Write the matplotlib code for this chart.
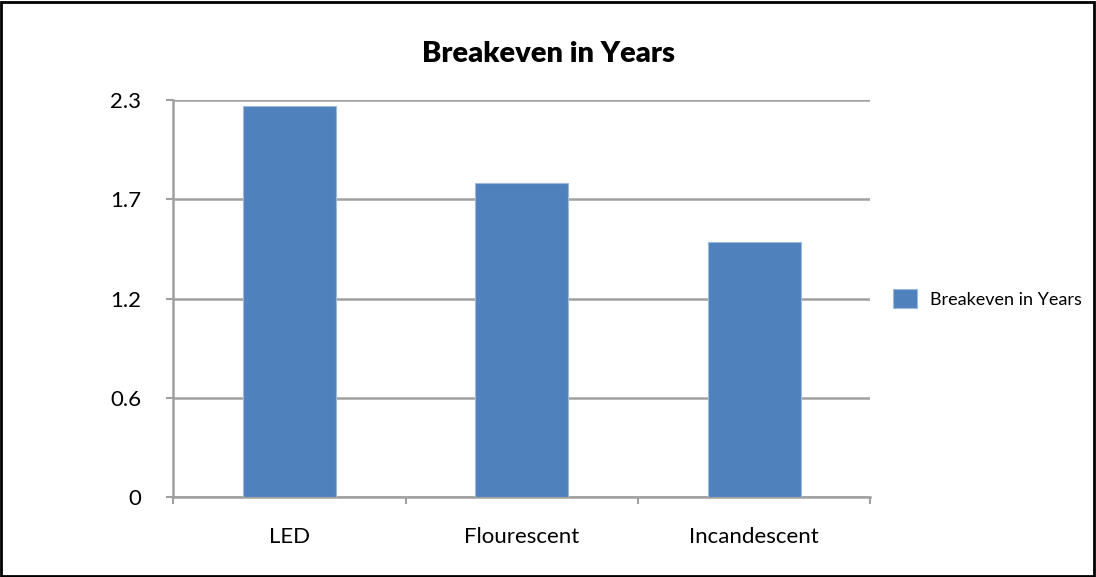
import numpy as np
import matplotlib.pyplot as plt
from matplotlib.patches import Rectangle

plt.rcParams['font.family'] = ['Lato', 'DejaVu Sans']

# Data
categories = ['LED', 'Flourescent', 'Incandescent']
breakeven = [2.27, 1.82, 1.48]
series_name = 'Breakeven in Years'
y_ticks = [0, 0.575, 1.15, 1.725, 2.3]
y_tick_labels = ['0', '0.6', '1.2', '1.7', '2.3']

fig = plt.figure(figsize=(10.96, 5.77), dpi=100)
ax = fig.add_axes([0.158, 0.139, 0.636, 0.687])

x = np.arange(len(categories))
ax.bar(x, breakeven, width=0.4, color='#4f81bd', edgecolor='#9dbbe0',
       linewidth=0.8, label=series_name, zorder=3)

ax.set_xlim(-0.5, len(categories) - 0.5)
ax.set_ylim(0, 2.3)
ax.set_yticks(y_ticks)
ax.set_yticklabels(y_tick_labels, fontsize=16)
ax.set_xticks(x)
ax.set_xticklabels(categories, fontsize=16)
ax.set_xticks(np.arange(-0.5, len(categories)), minor=True)
ax.tick_params(axis='x', which='major', length=0, pad=22)
ax.tick_params(axis='x', which='minor', length=5, width=1.5, color='#a0a0a0', direction='out')
ax.tick_params(axis='y', length=5, width=1.5, color='#a0a0a0', pad=18, direction='out')

ax.grid(axis='y', color='#a0a0a0', linewidth=1.8, zorder=0)
for side in ['top', 'right']:
    ax.spines[side].set_visible(False)
for side in ['left', 'bottom']:
    ax.spines[side].set_color('#a0a0a0')
    ax.spines[side].set_linewidth(1.8)

fig.text(0.5, 0.907, 'Breakeven in Years', ha='center', va='center',
         fontsize=21, fontweight='heavy')

ax.legend(loc='center left', bbox_to_anchor=(1.01, 0.5), frameon=False,
          fontsize=13, handlelength=1.3, handleheight=1.3, handletextpad=0.7)

fig.patches.append(Rectangle((0.001, 0.002), 0.997, 0.995, transform=fig.transFigure,
                             fill=False, edgecolor='black', linewidth=2))

plt.savefig('out.png', dpi=100)
